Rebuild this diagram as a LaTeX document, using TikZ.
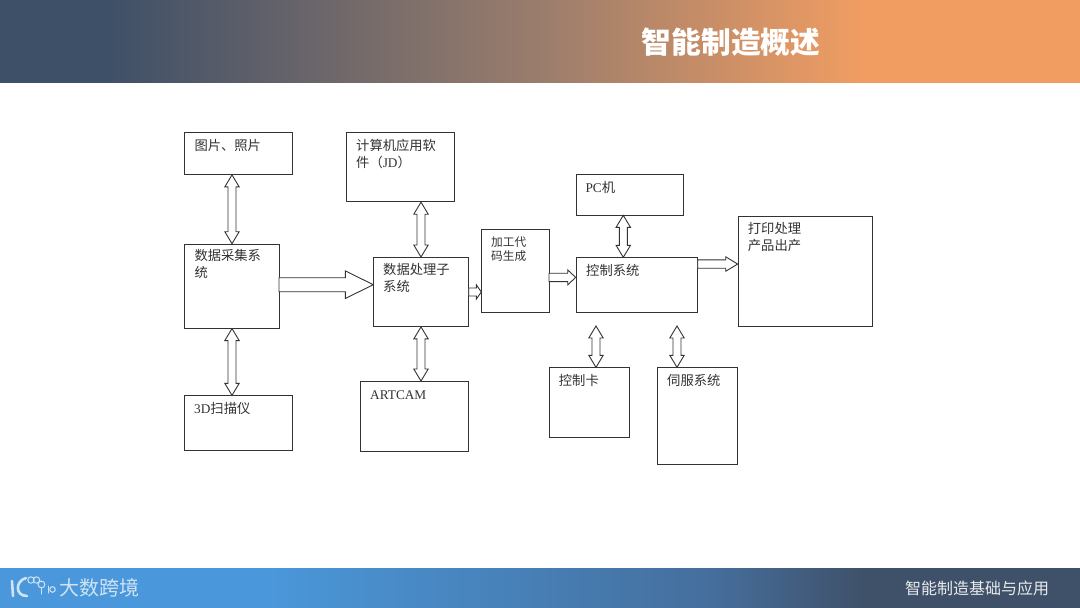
\documentclass[tikz,border=0pt]{standalone}
\usepackage{fontspec}
\setmainfont{Liberation Serif}
\newfontfamily\cjk{Noto Sans CJK SC}
\usetikzlibrary{calc, shadings}
\definecolor{headdark}{HTML}{3E5068}
\definecolor{headmid}{HTML}{9A7D6C}
\definecolor{headlight}{HTML}{F19D62}
\definecolor{footlight}{HTML}{4A98DB}
\definecolor{footmid}{HTML}{456E9C}
\definecolor{footdark}{HTML}{3F5169}
\definecolor{inkgray}{HTML}{333333}
\definecolor{brandblue}{HTML}{CFE3F5}
\pgfdeclarehorizontalshading{headband}{100bp}{
  color(0bp)=(headdark); color(30bp)=(headdark); color(50bp)=(headmid);
  color(65bp)=(headlight); color(100bp)=(headlight)}
\pgfdeclarehorizontalshading{footband}{100bp}{
  color(0bp)=(footlight); color(37bp)=(footlight); color(58bp)=(footmid);
  color(65bp)=(footdark); color(100bp)=(footdark)}
\newcommand{\headlen}{12pt}
\newcommand{\headwid}{7.2pt}
\tikzset{
  box/.style={draw=inkgray, line width=0.9pt, minimum width=#1, inner sep=0pt, anchor=north west},
  boxtext/.style={anchor=west, inner sep=0pt, align=left, text=inkgray,
    font=\fontsize{13.3}{17.5}\selectfont},
  smalltext/.style={boxtext, font=\fontsize{11.7}{14.5}\selectfont},
  % hollow arrow with one head
  blockone/.style={draw=inkgray, line width=0.9pt, fill=white, to path={
    ($(\tikztostart)!#1!90:(\tikztotarget)$)
    -- ($(\tikztotarget)!\headlen!(\tikztostart)!-#1!90:(\tikztostart)$)
    -- ($(\tikztotarget)!\headlen!(\tikztostart)!-\headwid!90:(\tikztostart)$)
    -- (\tikztotarget)
    -- ($(\tikztotarget)!\headlen!(\tikztostart)!\headwid!90:(\tikztostart)$)
    -- ($(\tikztotarget)!\headlen!(\tikztostart)!#1!90:(\tikztostart)$)
    -- ($(\tikztostart)!#1!-90:(\tikztotarget)$) -- cycle}},
  % hollow arrow with two heads
  blocktwo/.style={draw=inkgray, line width=0.9pt, fill=white, to path={
    (\tikztostart)
    -- ($(\tikztostart)!12pt!(\tikztotarget)!7.2pt!90:(\tikztotarget)$)
    -- ($(\tikztostart)!12pt!(\tikztotarget)!4pt!90:(\tikztotarget)$)
    -- ($(\tikztotarget)!12pt!(\tikztostart)!-4pt!90:(\tikztostart)$)
    -- ($(\tikztotarget)!12pt!(\tikztostart)!-7.2pt!90:(\tikztostart)$)
    -- (\tikztotarget)
    -- ($(\tikztotarget)!12pt!(\tikztostart)!7.2pt!90:(\tikztostart)$)
    -- ($(\tikztotarget)!12pt!(\tikztostart)!4pt!90:(\tikztostart)$)
    -- ($(\tikztostart)!12pt!(\tikztotarget)!-4pt!90:(\tikztotarget)$)
    -- ($(\tikztostart)!12pt!(\tikztotarget)!-7.2pt!90:(\tikztotarget)$)
    -- cycle}},
  logoline/.style={draw=brandblue, line cap=round}
}
\begin{document}
\begin{tikzpicture}[x=1pt, y=-1pt]
  \useasboundingbox (0,0) rectangle (1080,608);
  \fill[white] (0,0) rectangle (1080,608);
  % Title band
  \shade[shading=headband] (0,0) rectangle (1080,82);
  \node[inner sep=0pt, text=white, font=\cjk\bfseries\fontsize{29.7}{31}\selectfont] (title) at (731,42) {智能制造概述};
  % Footer band
  \shade[shading=footband] (0,568) rectangle (1080,608);
  \node[inner sep=0pt, text=white!88!footdark, font=\cjk\fontsize{16}{18}\selectfont] (course) at (977,588) {智能制造基础与应用};
  % Logo in footer
  \draw[logoline, line width=2.6pt] (12,581) -- (13,596);
  \draw[logoline, line width=2.6pt] (26,578) .. controls (15,581) and (15,596) .. (27,596);
  \draw[logoline, line width=1pt] (31,580) circle (3.2) (36.5,580) circle (3.2) (41.5,584.5) circle (3.4);
  \draw[logoline, line width=1pt] (41,588) -- (41,594) (48.5,586) -- (48.5,593);
  \draw[logoline, line width=1pt] (52.5,589.5) circle (2.8);
  \node[inner sep=0pt, text=brandblue, font=\cjk\fontsize{20}{22}\selectfont] (brand) at (99.5,588) {大数跨境};
  % Left column
  \node[box=107.5pt, minimum height=41.7pt] (photo) at (184.3,132.3) {};
  \node[box=94.5pt, minimum height=84pt] (collect) at (184.3,243.7) {};
  \node[box=107.5pt, minimum height=55pt] (scan) at (184.3,395.3) {};
  \node[boxtext] (phototext) at (194.3,145) {\cjk 图片、照片};
  \node[boxtext] (collecttext) at (194.3,264) {\cjk 数据采集系\\\cjk 统};
  \node[boxtext] (scantext) at (194,408) {3D\cjk 扫描仪};
  % Middle column
  \node[box=108pt, minimum height=69pt] (soft) at (346.3,132.3) {};
  \node[box=94.5pt, minimum height=69pt] (proc) at (373.3,257) {};
  \node[box=108pt, minimum height=69.5pt] (artcam) at (359.7,381) {};
  \node[boxtext] (softtext) at (356,154) {\cjk 计算机应用软\\\cjk 件（\rmfamily JD\cjk ）};
  \node[boxtext] (proctext) at (383,278) {\cjk 数据处理子\\\cjk 系统};
  \node[boxtext] (artcamtext) at (370,395) {ARTCAM};
  % Code box
  \node[box=67.5pt, minimum height=83pt] (code) at (481.3,229.3) {};
  \node[smalltext] (codetext) at (491,249) {\cjk 加工代\\\cjk 码生成};
  % Control group
  \node[box=107.7pt, minimum height=41pt] (pc) at (575.7,174.3) {};
  \node[box=121.7pt, minimum height=54.5pt] (ctrl) at (575.7,257.3) {};
  \node[box=80.7pt, minimum height=69.5pt] (card) at (548.7,367.3) {};
  \node[box=80.7pt, minimum height=97pt] (servo) at (656.7,367.3) {};
  \node[box=134.7pt, minimum height=110.4pt] (print) at (737.7,215.7) {};
  \node[boxtext] (pctext) at (585.3,187) {PC\cjk 机};
  \node[boxtext] (ctrltext) at (586,270) {\cjk 控制系统};
  \node[boxtext] (cardtext) at (558.7,380) {\cjk 控制卡};
  \node[boxtext] (servotext) at (667,380) {\cjk 伺服系统};
  \node[boxtext] (printtext) at (747.7,237) {\cjk 打印处理\\\cjk 产品出产};
  % Arrow ends that sit away from box centres
  \coordinate (cardtop) at (596,326);
  \coordinate (servotop) at (677,326);
  \coordinate (pcport) at (623.3,215.3);
  \coordinate (collectport) at (279,284.7);
  \coordinate (codeport) at (549,277.4);
  \coordinate (ctrlport) at (697.7,264);
  % Two way arrows
  \draw[blocktwo] (collect.north |- photo.south) to (collect.north);
  \draw[blocktwo] (collect.south) to (collect.south |- scan.north);
  \draw[blocktwo] (proc.north |- soft.south) to (proc.north);
  \draw[blocktwo] (proc.south) to (proc.south |- artcam.north);
  \draw[blocktwo] (pcport) to (pcport |- ctrl.north);
  \draw[blocktwo] (cardtop) to (cardtop |- card.north);
  \draw[blocktwo] (servotop) to (servotop |- servo.north);
  % One way arrows
  \def\headlen{28pt}\def\headwid{13.8pt}
  \draw[blockone=7pt] (collectport) to (collectport -| proc.west);
  \def\headlen{5pt}\def\headwid{7.2pt}
  \draw[blockone=4pt] (proc.east) to (proc.east -| code.west);
  \def\headlen{8pt}\def\headwid{7.5pt}
  \draw[blockone=4.2pt] (codeport) to (codeport -| ctrl.west);
  \def\headlen{12pt}\def\headwid{7.2pt}
  \draw[blockone=4.2pt] (ctrlport) to (ctrlport -| print.west);
\end{tikzpicture}
\end{document}
